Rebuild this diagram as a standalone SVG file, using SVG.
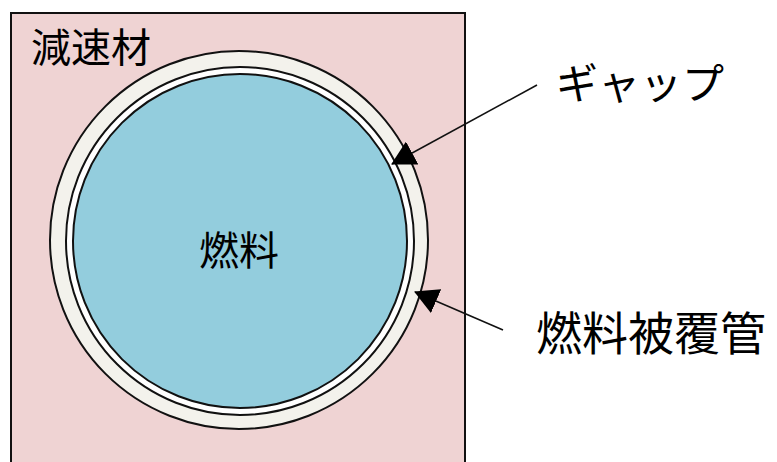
<svg xmlns="http://www.w3.org/2000/svg" width="777" height="462" viewBox="0 0 777 462">
<style>
text{font-family:"Noto Sans CJK JP","Noto Sans CJK SC",sans-serif;fill:#000}
.ring{stroke:#111;stroke-width:2}
.lead{stroke:#111;stroke-width:1.6;fill:none}
</style>
<defs>
<marker id="ah" markerUnits="userSpaceOnUse" markerWidth="24" markerHeight="26" refX="23" refY="13" orient="auto">
<path d="M0,0 L24,13 L0,26 z" fill="#000"/>
</marker>
</defs>
<rect width="777" height="462" fill="#fff"/>
<g id="moderator">
<rect x="11" y="13" width="454" height="460" fill="#efd3d3" stroke="#111" stroke-width="2"/>
<text x="31" y="62" font-size="40">減速材</text>
</g>
<g id="cladding">
<circle class="ring" cx="239" cy="240" r="189" fill="#f3f2ec"/>
</g>
<g id="gap">
<circle class="ring" cx="240" cy="241" r="174" fill="#ffffff"/>
</g>
<g id="fuel">
<circle class="ring" cx="240" cy="241" r="167" fill="#93cddd"/>
<text x="239" y="265" font-size="40" text-anchor="middle">燃料</text>
</g>
<g id="label-gap">
<text x="556" y="99" font-size="42">ギャップ</text>
</g>
<g id="label-cladding">
<text x="536" y="350" font-size="46">燃料被覆管</text>
</g>
<g id="connectors">
<path class="lead" d="M537,85 L392,164" marker-end="url(#ah)"/>
<path class="lead" d="M503,330 L415,292" marker-end="url(#ah)"/>
</g>
</svg>
